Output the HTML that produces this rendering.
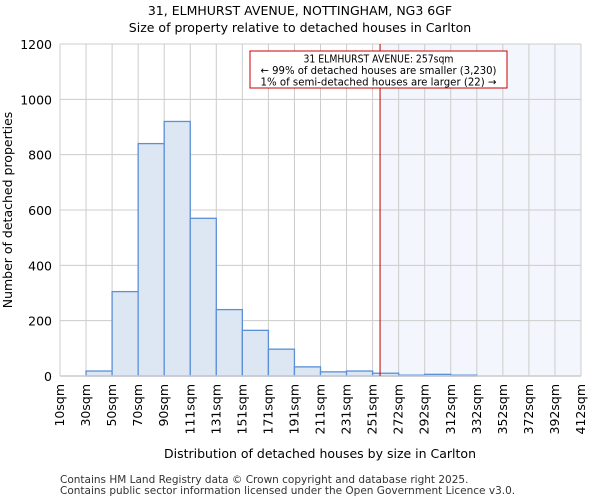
<!DOCTYPE html>
<html><head><meta charset="utf-8"><style>
body{margin:0;background:#fff;font-family:"DejaVu Sans","Liberation Sans",sans-serif;}
</style></head><body>
<svg id="chart" width="600" height="500" xmlns="http://www.w3.org/2000/svg" font-family="DejaVu Sans, Liberation Sans, sans-serif">
<text x="300" y="15" text-anchor="middle" font-size="12.5">31, ELMHURST AVENUE, NOTTINGHAM, NG3 6GF</text>
<text x="300" y="32" text-anchor="middle" font-size="12.5">Size of property relative to detached houses in Carlton</text>
<g id="plot"></g>
<text x="320" y="458" text-anchor="middle" font-size="12.5">Distribution of detached houses by size in Carlton</text>
<text transform="translate(12,210) rotate(-90)" text-anchor="middle" font-size="12.5">Number of detached properties</text>
<text x="60" y="483" font-size="10.5" fill="#333">Contains HM Land Registry data © Crown copyright and database right 2025.</text>
<text x="60" y="494" font-size="10.5" fill="#333">Contains public sector information licensed under the Open Government Licence v3.0.</text>
</svg>
<script>
const binLabels=["10sqm","30sqm","50sqm","70sqm","90sqm","111sqm","131sqm","151sqm","171sqm","191sqm","211sqm","231sqm","251sqm","272sqm","292sqm","312sqm","332sqm","352sqm","372sqm","392sqm","412sqm"];
const binEdges=[10,30,50,70,90,111,131,151,171,191,211,231,251,272,292,312,332,352,372,392,412];
const counts=[0,18,305,840,920,570,240,165,97,33,15,18,10,3,6,3,0,0,0,0,0];
const yTicks=[0,200,400,600,800,1000,1200];
const markerValue=257;
const NS="http://www.w3.org/2000/svg";
const L=60,R=581,T=44,B=376,yMax=1200;
const nb=binLabels.length-1;
const bw=(R-L)/nb;
function xIdx(i){return L+i*bw;}
function xVal(v){for(let i=0;i<nb;i++){if(v>=binEdges[i]&&v<=binEdges[i+1])return xIdx(i)+(v-binEdges[i])/(binEdges[i+1]-binEdges[i])*bw;}return R;}
function y(v){return B-v/yMax*(B-T);}
const g=document.getElementById('plot');
function mk(t,a){const e=document.createElementNS(NS,t);for(const k in a)e.setAttribute(k,a[k]);g.appendChild(e);return e;}
const mx=xVal(markerValue);
let sh=mk('rect',{x:mx,y:T,width:R-mx,height:B-T,fill:'#f3f6fc'});


yTicks.forEach(t=>{
 const l=mk('line',{x1:L,x2:R,y1:y(t),y2:y(t),stroke:'#cccccc','stroke-width':1});
 
 
 const tx=mk('text',{x:L-8,y:y(t)+5,'text-anchor':'end','font-size':'12.5'});
 tx.textContent=t;
 
 
});
binLabels.forEach((lb,i)=>{
 const x=xIdx(i);
 const l=mk('line',{x1:x,x2:x,y1:T,y2:B,stroke:'#cccccc','stroke-width':1});
 
 
 const tx=mk('text',{transform:`translate(${x+4},${B+8}) rotate(-90)`,'text-anchor':'end','font-size':'12.5'});
 tx.textContent=lb;
 
 
});
counts.forEach((c,i)=>{
 if(i>=nb)return;
 const r=mk('rect',{x:xIdx(i),y:y(c),width:bw,height:B-y(c),fill:c>0?'#dde7f4':'none',stroke:'#5b8fd6','stroke-width':1.3});
 
 
});
const ax=mk('line',{x1:L,x2:R,y1:B,y2:B,stroke:'#cccccc','stroke-width':1.5});


const ml=mk('line',{x1:mx,x2:mx,y1:T,y2:B,stroke:'#bb0000','stroke-width':1});


const box=mk('rect',{x:250,y:51,width:257,height:37,fill:'#fff',stroke:'#cc0000','stroke-width':1});


["31 ELMHURST AVENUE: 257sqm","← 99% of detached houses are smaller (3,230)","1% of semi-detached houses are larger (22) →"].forEach((s,i)=>{
 const t=mk('text',{x:378.5,y:62.5+i*11.5,'text-anchor':'middle','font-size':'10.5',textLength:i==0?150:(i==1?236:236),lengthAdjust:'spacingAndGlyphs'});
 t.textContent=s;
 
 
});
</script>
</body></html>
